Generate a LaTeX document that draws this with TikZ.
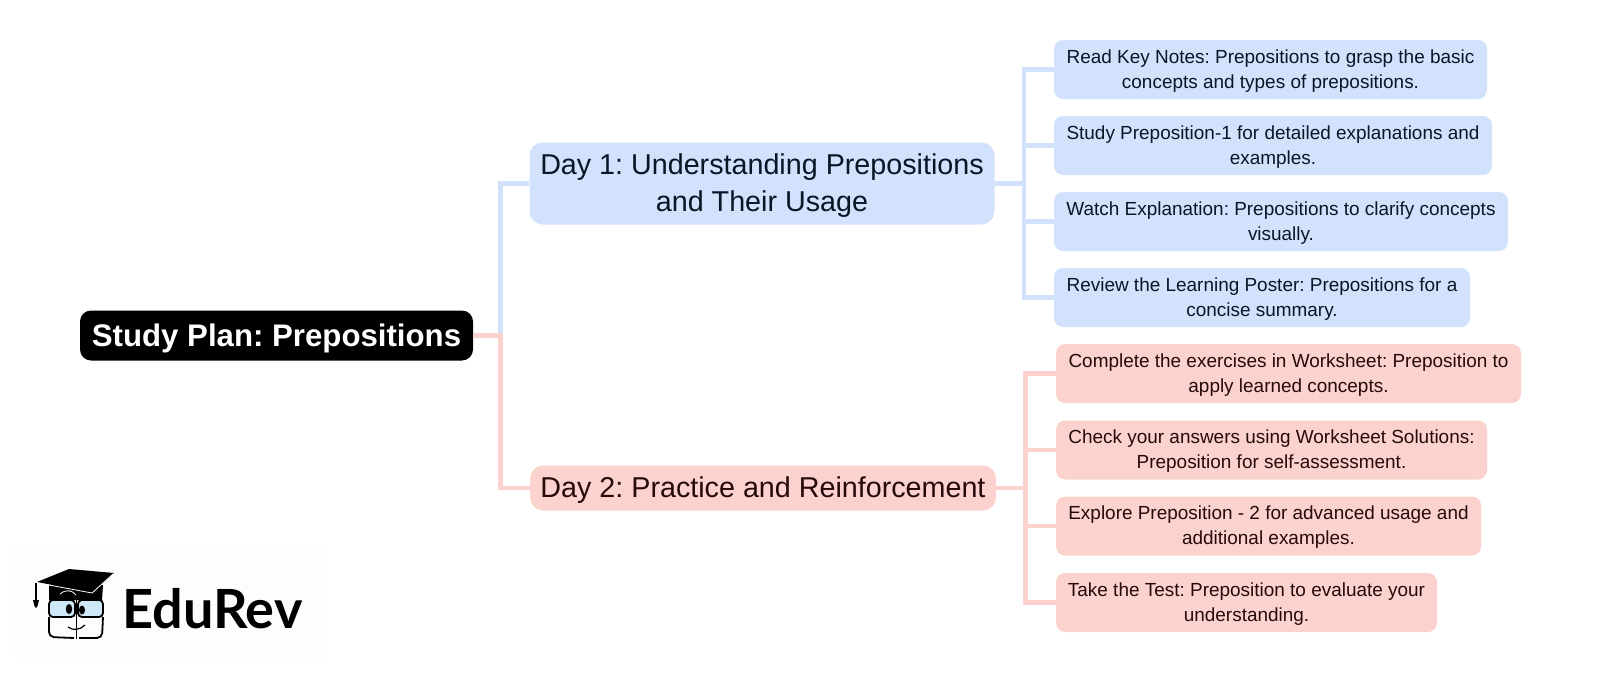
\documentclass[tikz,border=0pt]{standalone}
\usepackage{fontspec}
\setmainfont{Liberation Sans}
\newfontfamily\logofont{Lato}
\usetikzlibrary{positioning,calc}
\definecolor{bluefill}{HTML}{D2E2FC}
\definecolor{redfill}{HTML}{FBD2CD}
\definecolor{bluetext}{HTML}{0A1526}
\definecolor{redtext}{HTML}{260A0A}
\definecolor{logoback}{HTML}{FDFDFD}
\definecolor{glass}{HTML}{CFE8F7}
\tikzset{
  bluebox/.style={fill=bluefill,text=bluetext,rounded corners=9pt,inner sep=0pt,align=center},
  redbox/.style={fill=redfill,text=redtext,rounded corners=9pt,inner sep=0pt,align=center},
  leaftext/.style={font=\fontsize{18.95}{25}\selectfont\frenchspacing,text height=41pt},
  daytext/.style={font=\fontsize{28.7}{36.5}\selectfont\frenchspacing,rounded corners=13pt},
  bluelink/.style={draw=bluefill,line width=4.5pt},
  redlink/.style={draw=redfill,line width=4.5pt},
  logoline/.style={draw=black,line width=1.8pt},
}
\begin{document}
\begin{tikzpicture}[x=1pt,y=-1pt]
  \useasboundingbox (0,0) rectangle (1601,672);
  %logo
  \fill[logoback] (15,547) rectangle (328,658);
  \fill[black] (49,585) -- (49,600) -- (102,600) -- (103,585) -- cycle;
  \fill[black] (37,582) -- (69,569) -- (114,573) -- (93,593) -- cycle;
  \draw[white,line width=0.8pt] (38,583) -- (92,593) -- (113,574);
  \draw[white,line width=0.8pt] (60,594) .. controls (66,589) and (72,590) .. (76,595);
  \draw[black,line width=1.2pt] (36,583) -- (36,600);
  \fill[black] (33,600) -- (39,600) -- (37.5,606) -- (36,608) -- (34.5,606) -- cycle;
  \draw[logoline,fill=glass,rounded corners=4pt] (49,600) rectangle (75,617);
  \draw[logoline,fill=glass,rounded corners=4pt] (78,600) rectangle (103,617);
  \draw[logoline,rounded corners=5pt] (74,638) -- (49,637) -- (49,617);
  \draw[logoline,rounded corners=5pt] (79,638) -- (102,638) -- (103,617);
  \draw[logoline] (76.5,596) -- (76.5,639);
  \fill[black] (69,609) ellipse (3.2pt and 5pt);
  \fill[black] (82,610) ellipse (3pt and 4.5pt);
  \draw[black,line width=1.2pt] (68,627) .. controls (73,631) and (80,630) .. (85,625);
  \node[anchor=base west,inner sep=0pt,text=black,font=\logofont\bfseries\fontsize{54}{54}\selectfont] (edurev) at (122,628) {EduRev};

  %top
  \node[fill=black,text=white,rounded corners=11pt,inner sep=0pt,minimum width=393pt,minimum height=50pt,font=\bfseries\fontsize{31.2}{38}\selectfont\frenchspacing,text height=29pt] (root) at (276.5,335.5) {Study Plan: Prepositions};

  \node[bluebox,daytext,minimum width=465pt,minimum height=82pt,text height=61.5pt] (day1) at (762,183.5) {Day 1: Understanding Prepositions\\and Their Usage};
  \node[redbox,daytext,minimum width=466pt,minimum height=45pt,text height=25pt] (day2) at (763,488) {Day 2: Practice and Reinforcement};

  %leaves
  \node[bluebox,leaftext,minimum width=433pt,minimum height=59pt] (b1) at (1270.5,69.5) {Read Key Notes: Prepositions to grasp the basic\\concepts and types of prepositions.};
  \node[bluebox,leaftext,minimum width=438pt,minimum height=59pt] (b2) at (1273,145.5) {Study Preposition-1 for detailed explanations and\\examples.};
  \node[bluebox,leaftext,minimum width=454pt,minimum height=59pt] (b3) at (1281,221.5) {Watch Explanation: Prepositions to clarify concepts\\visually.};
  \node[bluebox,leaftext,minimum width=416pt,minimum height=59pt] (b4) at (1262,297.5) {Review the Learning Poster: Prepositions for a\\concise summary.};

  \node[redbox,leaftext,minimum width=465pt,minimum height=59pt] (r1) at (1288.5,373.5) {Complete the exercises in Worksheet: Preposition to\\apply learned concepts.};
  \node[redbox,leaftext,minimum width=431pt,minimum height=59pt] (r2) at (1271.5,450) {Check your answers using Worksheet Solutions:\\Preposition for self-assessment.};
  \node[redbox,leaftext,minimum width=425pt,minimum height=59pt] (r3) at (1268.5,526) {Explore Preposition - 2 for advanced usage and\\additional examples.};
  \node[redbox,leaftext,minimum width=381pt,minimum height=59pt] (r4) at (1246.5,602.5) {Take the Test: Preposition to evaluate your\\understanding.};

  %links
  \coordinate (rootbus) at (500.5,335.5);
  \coordinate (bluebus) at (1024,183.5);
  \coordinate (redbus) at (1025.5,488);
  \draw[bluelink] (rootbus) |- (day1.west);
  \draw[redlink] (root.east) -- (rootbus) |- (day2.west);
  \draw[bluelink] (day1.east) -- (bluebus);
  \draw[redlink] (day2.east) -- (redbus);
  \foreach \leaf in {b1,b2,b3,b4}
    \draw[bluelink] (bluebus) |- (\leaf.west);
  \foreach \leaf in {r1,r2,r3,r4}
    \draw[redlink] (redbus) |- (\leaf.west);
\end{tikzpicture}
\end{document}
